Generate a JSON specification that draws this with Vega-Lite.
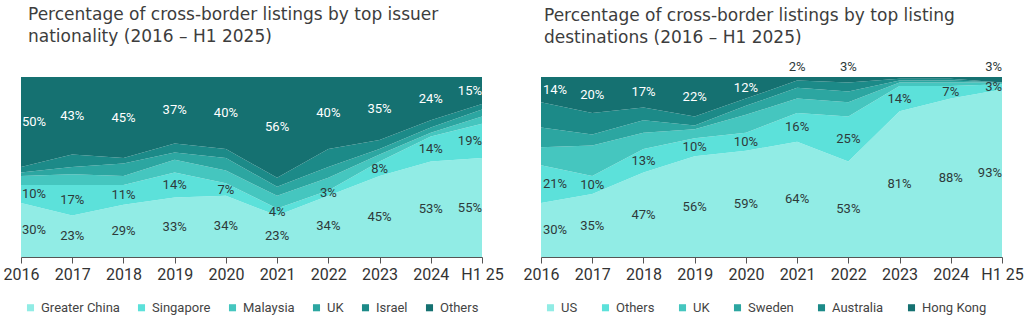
{
  "$schema": "https://vega.github.io/schema/vega-lite/v6.json",
  "background": "white",
  "padding": {"left": 3, "top": 6, "right": 0, "bottom": 0},
  "bounds": "flush",
  "spacing": 59,
  "config": {
    "font": "Roboto",
    "view": {"stroke": null},
    "axis": {"grid": false},
    "title": {"anchor": "start", "font": "DejaVu Sans", "fontSize": 17, "fontWeight": "normal", "color": "#3d3d3d", "lineHeight": 22, "dx": 7, "frame": "group"},
    "legend": {"orient": "bottom", "direction": "horizontal", "title": null, "symbolType": "square", "symbolSize": 50, "symbolStrokeWidth": 0, "labelFontSize": 13, "labelColor": "#444444", "labelOffset": 4, "offset": 16, "padding": 3}
  },
  "resolve": {"scale": {"color": "independent", "x": "independent", "y": "independent"}, "legend": {"color": "independent"}},
  "hconcat": [
    {
      "title": {"text": ["Percentage of cross-border listings by top issuer", "nationality (2016 \u2013 H1 2025)"], "offset": 31},
      "width": 461,
      "height": 180,
      "data": {"values": [
        {"year": "2016", "series": "Greater China", "k": 1, "value": 30, "label": "30%"},
        {"year": "2016", "series": "Singapore", "k": 2, "value": 10, "label": "10%"},
        {"year": "2016", "series": "Malaysia", "k": 3, "value": 5, "label": ""},
        {"year": "2016", "series": "UK", "k": 4, "value": 2, "label": ""},
        {"year": "2016", "series": "Israel", "k": 5, "value": 3, "label": ""},
        {"year": "2016", "series": "Others", "k": 6, "value": 50, "label": "50%"},
        {"year": "2017", "series": "Greater China", "k": 1, "value": 23, "label": "23%"},
        {"year": "2017", "series": "Singapore", "k": 2, "value": 17, "label": "17%"},
        {"year": "2017", "series": "Malaysia", "k": 3, "value": 6, "label": ""},
        {"year": "2017", "series": "UK", "k": 4, "value": 4, "label": ""},
        {"year": "2017", "series": "Israel", "k": 5, "value": 7, "label": ""},
        {"year": "2017", "series": "Others", "k": 6, "value": 43, "label": "43%"},
        {"year": "2018", "series": "Greater China", "k": 1, "value": 29, "label": "29%"},
        {"year": "2018", "series": "Singapore", "k": 2, "value": 11, "label": "11%"},
        {"year": "2018", "series": "Malaysia", "k": 3, "value": 5, "label": ""},
        {"year": "2018", "series": "UK", "k": 4, "value": 7, "label": ""},
        {"year": "2018", "series": "Israel", "k": 5, "value": 3, "label": ""},
        {"year": "2018", "series": "Others", "k": 6, "value": 45, "label": "45%"},
        {"year": "2019", "series": "Greater China", "k": 1, "value": 33, "label": "33%"},
        {"year": "2019", "series": "Singapore", "k": 2, "value": 14, "label": "14%"},
        {"year": "2019", "series": "Malaysia", "k": 3, "value": 7, "label": ""},
        {"year": "2019", "series": "UK", "k": 4, "value": 4, "label": ""},
        {"year": "2019", "series": "Israel", "k": 5, "value": 5, "label": ""},
        {"year": "2019", "series": "Others", "k": 6, "value": 37, "label": "37%"},
        {"year": "2020", "series": "Greater China", "k": 1, "value": 34, "label": "34%"},
        {"year": "2020", "series": "Singapore", "k": 2, "value": 7, "label": "7%"},
        {"year": "2020", "series": "Malaysia", "k": 3, "value": 7, "label": ""},
        {"year": "2020", "series": "UK", "k": 4, "value": 7, "label": ""},
        {"year": "2020", "series": "Israel", "k": 5, "value": 5, "label": ""},
        {"year": "2020", "series": "Others", "k": 6, "value": 40, "label": "40%"},
        {"year": "2021", "series": "Greater China", "k": 1, "value": 23, "label": "23%"},
        {"year": "2021", "series": "Singapore", "k": 2, "value": 4, "label": "4%"},
        {"year": "2021", "series": "Malaysia", "k": 3, "value": 7, "label": ""},
        {"year": "2021", "series": "UK", "k": 4, "value": 5, "label": ""},
        {"year": "2021", "series": "Israel", "k": 5, "value": 5, "label": ""},
        {"year": "2021", "series": "Others", "k": 6, "value": 56, "label": "56%"},
        {"year": "2022", "series": "Greater China", "k": 1, "value": 34, "label": "34%"},
        {"year": "2022", "series": "Singapore", "k": 2, "value": 3, "label": "3%"},
        {"year": "2022", "series": "Malaysia", "k": 3, "value": 7, "label": ""},
        {"year": "2022", "series": "UK", "k": 4, "value": 6, "label": ""},
        {"year": "2022", "series": "Israel", "k": 5, "value": 10, "label": ""},
        {"year": "2022", "series": "Others", "k": 6, "value": 40, "label": "40%"},
        {"year": "2023", "series": "Greater China", "k": 1, "value": 45, "label": "45%"},
        {"year": "2023", "series": "Singapore", "k": 2, "value": 8, "label": "8%"},
        {"year": "2023", "series": "Malaysia", "k": 3, "value": 4, "label": ""},
        {"year": "2023", "series": "UK", "k": 4, "value": 3, "label": ""},
        {"year": "2023", "series": "Israel", "k": 5, "value": 5, "label": ""},
        {"year": "2023", "series": "Others", "k": 6, "value": 35, "label": "35%"},
        {"year": "2024", "series": "Greater China", "k": 1, "value": 53, "label": "53%"},
        {"year": "2024", "series": "Singapore", "k": 2, "value": 14, "label": "14%"},
        {"year": "2024", "series": "Malaysia", "k": 3, "value": 2, "label": ""},
        {"year": "2024", "series": "UK", "k": 4, "value": 3, "label": ""},
        {"year": "2024", "series": "Israel", "k": 5, "value": 4, "label": ""},
        {"year": "2024", "series": "Others", "k": 6, "value": 24, "label": "24%"},
        {"year": "H1 25", "series": "Greater China", "k": 1, "value": 55, "label": "55%"},
        {"year": "H1 25", "series": "Singapore", "k": 2, "value": 19, "label": "19%"},
        {"year": "H1 25", "series": "Malaysia", "k": 3, "value": 4, "label": ""},
        {"year": "H1 25", "series": "UK", "k": 4, "value": 4, "label": ""},
        {"year": "H1 25", "series": "Israel", "k": 5, "value": 3, "label": ""},
        {"year": "H1 25", "series": "Others", "k": 6, "value": 15, "label": "15%"}
      ]},
      "encoding": {
        "x": {"field": "year", "type": "ordinal", "sort": null, "scale": {"type": "point", "padding": 0},
          "axis": {"title": null, "labelAngle": 0, "labelFontSize": 16, "labelColor": "#333333", "domainColor": "#555555", "tickColor": "#555555", "tickSize": 6, "labelPadding": 3, "labelFlush": false}},
        "order": {"field": "k", "type": "quantitative", "sort": "ascending"}
      },
      "layer": [
        {"mark": {"type": "area", "opacity": 1},
          "encoding": {
            "y": {"field": "value", "type": "quantitative", "stack": "normalize", "axis": null, "scale": {"domain": [0, 1], "nice": false}},
            "color": {"field": "series", "type": "nominal",
              "sort": ["Greater China", "Singapore", "Malaysia", "UK", "Israel", "Others"],
              "scale": {"domain": ["Greater China", "Singapore", "Malaysia", "UK", "Israel", "Others"], "range": ["#91ECE5", "#5CE1DA", "#45C6BF", "#2CA6A1", "#1C8A88", "#157171"]},
              "legend": {"columnPadding": 15}}
          }},
        {"mark": {"type": "text", "fontSize": 13, "baseline": "middle", "align": {"expr": "datum.year === '2016' ? 'left' : datum.year === 'H1 25' ? 'right' : 'center'"}, "dx": {"expr": "datum.year === '2016' ? 1 : 0"}},
          "encoding": {
            "y": {"field": "value", "type": "quantitative", "stack": "normalize", "bandPosition": 0.5},
            "detail": {"field": "series", "type": "nominal"},
            "text": {"field": "label"},
            "fill": {"condition": {"test": "datum.series === 'Others'", "value": "#ffffff"}, "value": "#2e3a3a"}
          }}
      ]
    },
    {
      "title": {"text": ["Percentage of cross-border listings by top listing", "destinations (2016 \u2013 H1 2025)"], "offset": 14, "dx": 3},
      "width": 461,
      "height": 180,
      "data": {"values": [
        {"year": "2016", "series": "US", "k": 1, "value": 30, "label": "30%"},
        {"year": "2016", "series": "Others", "k": 2, "value": 21, "label": "21%"},
        {"year": "2016", "series": "UK", "k": 3, "value": 10, "label": ""},
        {"year": "2016", "series": "Sweden", "k": 4, "value": 11, "label": ""},
        {"year": "2016", "series": "Australia", "k": 5, "value": 14, "label": ""},
        {"year": "2016", "series": "Hong Kong", "k": 6, "value": 14, "label": "14%"},
        {"year": "2017", "series": "US", "k": 1, "value": 35, "label": "35%"},
        {"year": "2017", "series": "Others", "k": 2, "value": 10, "label": "10%"},
        {"year": "2017", "series": "UK", "k": 3, "value": 17, "label": ""},
        {"year": "2017", "series": "Sweden", "k": 4, "value": 6, "label": ""},
        {"year": "2017", "series": "Australia", "k": 5, "value": 12, "label": ""},
        {"year": "2017", "series": "Hong Kong", "k": 6, "value": 20, "label": "20%"},
        {"year": "2018", "series": "US", "k": 1, "value": 47, "label": "47%"},
        {"year": "2018", "series": "Others", "k": 2, "value": 13, "label": "13%"},
        {"year": "2018", "series": "UK", "k": 3, "value": 9, "label": ""},
        {"year": "2018", "series": "Sweden", "k": 4, "value": 7, "label": ""},
        {"year": "2018", "series": "Australia", "k": 5, "value": 7, "label": ""},
        {"year": "2018", "series": "Hong Kong", "k": 6, "value": 17, "label": "17%"},
        {"year": "2019", "series": "US", "k": 1, "value": 56, "label": "56%"},
        {"year": "2019", "series": "Others", "k": 2, "value": 10, "label": "10%"},
        {"year": "2019", "series": "UK", "k": 3, "value": 5, "label": ""},
        {"year": "2019", "series": "Sweden", "k": 4, "value": 2, "label": ""},
        {"year": "2019", "series": "Australia", "k": 5, "value": 5, "label": ""},
        {"year": "2019", "series": "Hong Kong", "k": 6, "value": 22, "label": "22%"},
        {"year": "2020", "series": "US", "k": 1, "value": 59, "label": "59%"},
        {"year": "2020", "series": "Others", "k": 2, "value": 10, "label": "10%"},
        {"year": "2020", "series": "UK", "k": 3, "value": 10, "label": ""},
        {"year": "2020", "series": "Sweden", "k": 4, "value": 5, "label": ""},
        {"year": "2020", "series": "Australia", "k": 5, "value": 4, "label": ""},
        {"year": "2020", "series": "Hong Kong", "k": 6, "value": 12, "label": "12%"},
        {"year": "2021", "series": "US", "k": 1, "value": 64, "label": "64%"},
        {"year": "2021", "series": "Others", "k": 2, "value": 16, "label": "16%"},
        {"year": "2021", "series": "UK", "k": 3, "value": 8, "label": ""},
        {"year": "2021", "series": "Sweden", "k": 4, "value": 6, "label": ""},
        {"year": "2021", "series": "Australia", "k": 5, "value": 4, "label": ""},
        {"year": "2021", "series": "Hong Kong", "k": 6, "value": 2, "label": "2%"},
        {"year": "2022", "series": "US", "k": 1, "value": 53, "label": "53%"},
        {"year": "2022", "series": "Others", "k": 2, "value": 25, "label": "25%"},
        {"year": "2022", "series": "UK", "k": 3, "value": 8, "label": ""},
        {"year": "2022", "series": "Sweden", "k": 4, "value": 6, "label": ""},
        {"year": "2022", "series": "Australia", "k": 5, "value": 5, "label": ""},
        {"year": "2022", "series": "Hong Kong", "k": 6, "value": 3, "label": "3%"},
        {"year": "2023", "series": "US", "k": 1, "value": 81, "label": "81%"},
        {"year": "2023", "series": "Others", "k": 2, "value": 14, "label": "14%"},
        {"year": "2023", "series": "UK", "k": 3, "value": 2, "label": ""},
        {"year": "2023", "series": "Sweden", "k": 4, "value": 1, "label": ""},
        {"year": "2023", "series": "Australia", "k": 5, "value": 1, "label": ""},
        {"year": "2023", "series": "Hong Kong", "k": 6, "value": 1, "label": ""},
        {"year": "2024", "series": "US", "k": 1, "value": 88, "label": "88%"},
        {"year": "2024", "series": "Others", "k": 2, "value": 7, "label": "7%"},
        {"year": "2024", "series": "UK", "k": 3, "value": 2, "label": ""},
        {"year": "2024", "series": "Sweden", "k": 4, "value": 1, "label": ""},
        {"year": "2024", "series": "Australia", "k": 5, "value": 1, "label": ""},
        {"year": "2024", "series": "Hong Kong", "k": 6, "value": 1, "label": ""},
        {"year": "H1 25", "series": "US", "k": 1, "value": 93, "label": "93%"},
        {"year": "H1 25", "series": "Others", "k": 2, "value": 3, "label": "3%"},
        {"year": "H1 25", "series": "UK", "k": 3, "value": 1, "label": ""},
        {"year": "H1 25", "series": "Sweden", "k": 4, "value": 0, "label": ""},
        {"year": "H1 25", "series": "Australia", "k": 5, "value": 0, "label": ""},
        {"year": "H1 25", "series": "Hong Kong", "k": 6, "value": 3, "label": "3%"}
      ]},
      "encoding": {
        "x": {"field": "year", "type": "ordinal", "sort": null, "scale": {"type": "point", "padding": 0},
          "axis": {"title": null, "labelAngle": 0, "labelFontSize": 16, "labelColor": "#333333", "domainColor": "#555555", "tickColor": "#555555", "tickSize": 6, "labelPadding": 3, "labelFlush": false}}
      },
      "layer": [
        {"mark": {"type": "area", "opacity": 1},
          "encoding": {
            "y": {"field": "value", "type": "quantitative", "stack": "normalize", "axis": null, "scale": {"domain": [0, 1], "nice": false}},
            "order": {"field": "k", "type": "quantitative", "sort": "ascending"},
            "color": {"field": "series", "type": "nominal",
              "sort": ["US", "Others", "UK", "Sweden", "Australia", "Hong Kong"],
              "scale": {"domain": ["US", "Others", "UK", "Sweden", "Australia", "Hong Kong"], "range": ["#91ECE5", "#5CE1DA", "#45C6BF", "#2CA6A1", "#1C8A88", "#157171"]},
              "legend": {"columnPadding": 21}}
          }},
        {"mark": {"type": "text", "fontSize": 13, "baseline": "middle", "align": {"expr": "datum.year === '2016' ? 'left' : datum.year === 'H1 25' ? 'right' : 'center'"}, "dx": {"expr": "datum.year === '2016' ? 2 : 0"}},
          "encoding": {
            "y": {"field": "value", "type": "quantitative", "stack": "normalize", "bandPosition": 0.5},
            "order": {"field": "k", "type": "quantitative", "sort": "ascending"},
            "detail": {"field": "series", "type": "nominal"},
            "text": {"field": "label", "condition": {"test": "datum.series === 'Hong Kong' && datum.value < 5", "value": ""}},
            "fill": {"condition": {"test": "datum.series === 'Hong Kong'", "value": "#ffffff"}, "value": "#2e3a3a"}
          }},
        {"transform": [{"filter": "datum.series === 'Hong Kong' && datum.value < 5 && datum.label !== ''"}],
          "mark": {"type": "text", "fontSize": 13, "baseline": "bottom", "dy": -3, "align": {"expr": "datum.year === 'H1 25' ? 'right' : 'center'"}, "color": "#2e3a3a"},
          "encoding": {
            "y": {"datum": 1, "type": "quantitative"},
            "text": {"field": "label"}
          }}
      ]
    }
  ]
}
